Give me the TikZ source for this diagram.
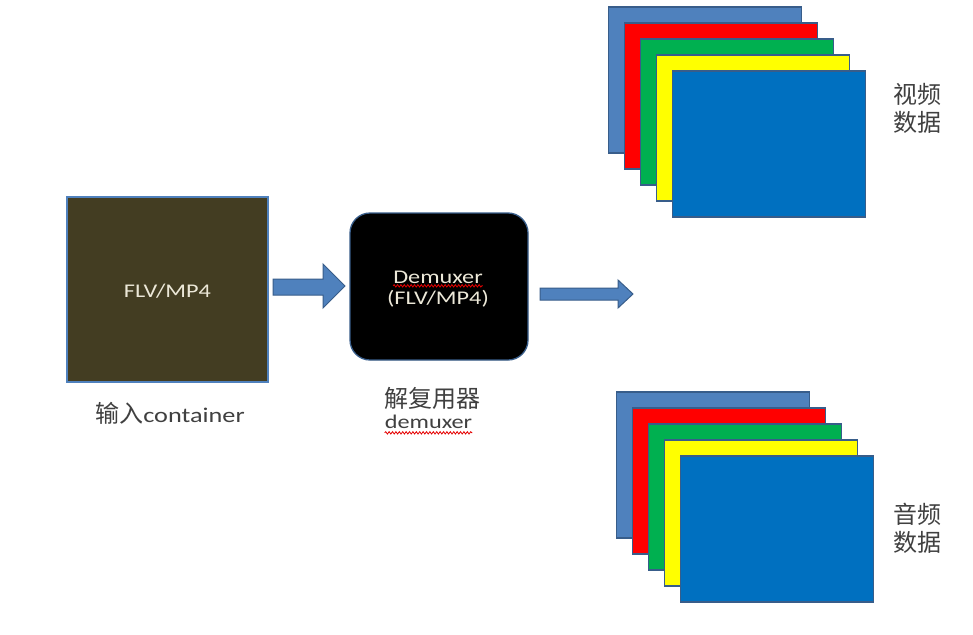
\documentclass[tikz,border=0pt]{standalone}
\usepackage{fontspec}
\setmainfont{Carlito}[FakeStretch=1.25]
\newfontfamily\cjk{Noto Sans CJK SC}
\usetikzlibrary{decorations.pathmorphing,calc}
\definecolor{steelb}{HTML}{4F81BD}
\definecolor{edgeb}{HTML}{385D8A}
\definecolor{redf}{HTML}{FF0000}
\definecolor{greenf}{HTML}{00B050}
\definecolor{yellowf}{HTML}{FFFF00}
\definecolor{bluef}{HTML}{0070C0}
\definecolor{olivef}{HTML}{433D22}
\definecolor{creamt}{HTML}{ECE8D8}
\definecolor{labelt}{HTML}{404040}
\tikzset{
  frame/.style={draw=edgeb, line width=1.3pt, minimum width=193pt, minimum height=146pt, inner sep=0pt},
  boxtext/.style={text=creamt, font=\fontsize{19.4}{21}\selectfont, inner sep=0pt},
  lbl/.style={text=labelt, inner sep=0pt},
  blockarrow/.style={fill=steelb, draw=edgeb, line width=1pt, line join=miter},
  squiggle/.style={draw=red!90!black, line width=0.8pt, decorate, decoration={snake, segment length=3.4pt, amplitude=1.2pt}}
}
\begin{document}
\begin{tikzpicture}[x=1pt,y=-1pt]
\useasboundingbox (0,0) rectangle (973,634);
\fill[white] (0,0) rectangle (973,634);

% input container
\node[draw=steelb, line width=1.3pt, fill=olivef, minimum width=201pt, minimum height=185pt, inner sep=0pt] (inbox) at (167.5,289.5) {};
\node[boxtext] (intext) at (167.5,291) {FLV/MP4};
\node[lbl, anchor=center] (inlabel) at (170,413) {{\fontsize{24}{26}\selectfont\cjk 输入}{\fontsize{21}{25}\selectfont container}};

% demuxer
\node[draw=edgeb, line width=1.3pt, fill=black, rounded corners=20pt, minimum width=178pt, minimum height=147pt, inner sep=0pt] (dmbox) at (439,286.5) {};
\node[boxtext, anchor=base] (dmt1) at (438,283) {Demuxer};
\node[boxtext, anchor=base] (dmt2) at (438,304) {(FLV/MP4)};
\draw[squiggle] ($(dmt1.south west)+(0,2.5)$) -- ($(dmt1.south east)+(0,2.5)$);
\node[lbl, anchor=center, font=\fontsize{24}{26}\selectfont\cjk] (dmlab1) at (432,398) {解复用器};
\node[lbl, anchor=base, font=\fontsize{19.4}{21}\selectfont] (dmlab2) at (428.5,428) {demuxer};
\draw[squiggle] ($(dmlab2.south west)+(0,4.5)$) -- ($(dmlab2.south east)+(0,4.5)$);

% arrow 1
\draw[blockarrow] (273,279) -- (323,279) -- (323,264) -- (345,286) -- (323,308) -- (323,295) -- (273,295) -- cycle;
% arrow 2
\draw[blockarrow] (540,288) -- (618,288) -- (618,280) -- (633,294) -- (618,308) -- (618,300) -- (540,300) -- cycle;

% video frames
\node[frame, fill=steelb] (v1) at (705,80) {};
\node[frame, fill=redf] (v2) at (721,96) {};
\node[frame, fill=greenf] (v3) at (737,112) {};
\node[frame, fill=yellowf] (v4) at (753,128) {};
\node[frame, fill=bluef] (v5) at (769,144) {};
\node[lbl, align=center, font=\fontsize{24}{28}\selectfont\cjk] (vlab) at (917,108) {视频\\数据};

% audio frames
\node[frame, fill=steelb] (u1) at (713,465) {};
\node[frame, fill=redf] (u2) at (729,481) {};
\node[frame, fill=greenf] (u3) at (745,497) {};
\node[frame, fill=yellowf] (u4) at (761,513) {};
\node[frame, fill=bluef] (u5) at (777,529) {};
\node[lbl, align=center, font=\fontsize{24}{28}\selectfont\cjk] (alab) at (917,528) {音频\\数据};
\end{tikzpicture}
\end{document}
